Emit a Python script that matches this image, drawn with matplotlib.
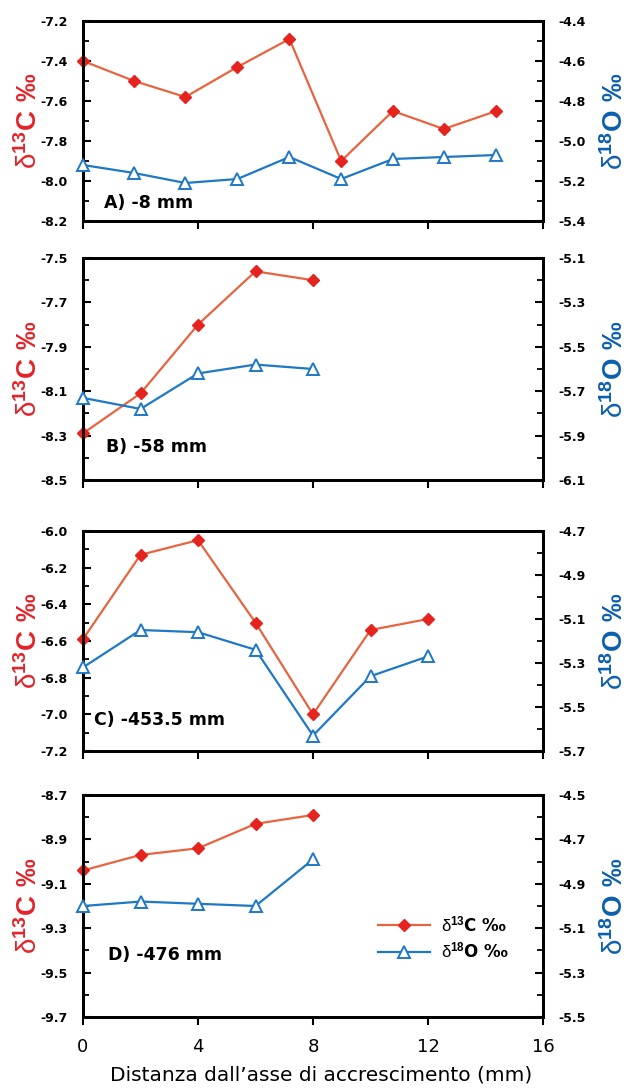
#!/usr/bin/env python3
"""Four stacked d13C / d18O profiles against distance from the growth axis."""
import matplotlib
matplotlib.use("Agg")
import matplotlib.pyplot as plt
from matplotlib.lines import Line2D
from matplotlib.ticker import FormatStrFormatter

plt.rcParams["font.family"] = ["DejaVu Sans"]
plt.rcParams["mathtext.fontset"] = "custom"
plt.rcParams["mathtext.rm"] = "Liberation Sans"
plt.rcParams["mathtext.bf"] = "Liberation Sans:bold"
plt.rcParams["mathtext.default"] = "rm"
plt.rcParams["axes.unicode_minus"] = False

RED_LINE = "#e8643f"
RED_MARK = "#e5231f"
BLUE = "#1f78c6"
RED_LABEL = "#e3232a"
BLUE_LABEL = "#0b5fae"

# panel A) -8 mm
x_a = [0, 1.78, 3.56, 5.37, 7.18, 8.98, 10.78, 12.55, 14.38]
c13_a = [-7.40, -7.50, -7.58, -7.43, -7.29, -7.90, -7.65, -7.74, -7.65]
o18_a = [-5.12, -5.16, -5.21, -5.19, -5.08, -5.19, -5.09, -5.08, -5.07]

# panel B) -58 mm
x_b = [0, 2, 4, 6, 8]
c13_b = [-8.29, -8.11, -7.80, -7.56, -7.60]
o18_b = [-5.73, -5.78, -5.62, -5.58, -5.60]

# panel C) -453.5 mm
x_c = [0, 2, 4, 6, 8, 10, 12]
c13_c = [-6.59, -6.13, -6.05, -6.50, -7.00, -6.54, -6.48]
o18_c = [-5.32, -5.15, -5.16, -5.24, -5.63, -5.36, -5.27]

# panel D) -476 mm
x_d = [0, 2, 4, 6, 8]
c13_d = [-9.04, -8.97, -8.94, -8.83, -8.79]
o18_d = [-5.00, -4.98, -4.99, -5.00, -4.79]

panel_names = ["A) -8 mm", "B) -58 mm", "C) -453.5 mm", "D) -476 mm"]
c13_top = [-7.2, -7.5, -6.0, -8.7]
c13_bottom = [-8.2, -8.5, -7.2, -9.7]
o18_top = [-4.4, -5.1, -4.7, -4.5]
o18_bottom = [-5.4, -6.1, -5.7, -5.5]
x_ticks = [0, 4, 8, 12, 16]

C13_AXIS = r"$\delta^{\mathbf{13}}\mathbf{C\ ‰}$"
O18_AXIS = r"$\delta^{\mathbf{18}}\mathbf{O\ ‰}$"
C13_LEG = r"$\delta^{\mathbf{13}}$C ‰"
O18_LEG = r"$\delta^{\mathbf{18}}$O ‰"

# pixel boxes (top, bottom) of each panel in the 631x1092 figure
W, H = 631, 1092
boxes = [(21, 221), (258, 480), (531, 751), (795, 1017)]
left_px, right_px = 83, 543
name_pos = [(0.045, 0.09), (0.05, 0.15), (0.025, 0.14), (0.055, 0.28)]

panels = [(x_a, c13_a, o18_a), (x_b, c13_b, o18_b),
          (x_c, c13_c, o18_c), (x_d, c13_d, o18_d)]


def ticks_from(top, bottom, step):
    n = int(round((top - bottom) / step))
    return [round(top - step * k, 2) for k in range(n + 1)]


fig = plt.figure(figsize=(W / 100, H / 100), dpi=100)

for i, (x, c13, o18) in enumerate(panels):
    top, bot = boxes[i]
    ax = fig.add_axes([left_px / W, 1 - bot / H, (right_px - left_px) / W, (bot - top) / H])
    ax2 = ax.twinx()

    ax.plot(x, c13, color=RED_LINE, lw=1.6, marker="D", ms=6.5,
            mfc=RED_MARK, mec=RED_MARK, zorder=3, clip_on=False)
    ax2.plot(x, o18, color=BLUE, lw=1.6, marker="^", ms=9,
             mfc="white", mec=BLUE, mew=1.4, zorder=3, clip_on=False)

    ax.set_xlim(0, 16)
    ax.set_ylim(c13_bottom[i], c13_top[i])
    ax2.set_ylim(o18_bottom[i], o18_top[i])
    ax.set_xticks(x_ticks)
    ax.set_yticks(ticks_from(c13_top[i], c13_bottom[i], 0.2))
    ax.set_yticks(ticks_from(c13_top[i], c13_bottom[i], 0.1), minor=True)
    ax2.set_yticks(ticks_from(o18_top[i], o18_bottom[i], 0.2))
    ax2.set_yticks(ticks_from(o18_top[i], o18_bottom[i], 0.1), minor=True)

    for a in (ax, ax2):
        a.yaxis.set_major_formatter(FormatStrFormatter("%.1f"))
        a.tick_params(axis="y", which="major", direction="in", length=6, width=1.5,
                      labelsize=9, pad=11)
        a.tick_params(axis="y", which="minor", direction="in", length=4, width=1.3)
        for lab in a.get_yticklabels():
            lab.set_fontweight("bold")
        for s in a.spines.values():
            s.set_linewidth(2)
    ax.tick_params(axis="x", direction="out", length=6, width=1.5,
                   labelsize=13, pad=9, labelbottom=(i == 3))
    ax2.tick_params(axis="x", length=0)

    ax.set_ylabel(C13_AXIS, color=RED_LABEL, fontsize=20)
    ax.yaxis.set_label_coords(-0.087, 0.5)
    ax2.set_ylabel(O18_AXIS, color=BLUE_LABEL, fontsize=20)
    ax2.yaxis.set_label_coords(1.127, 0.5)

    ax.text(name_pos[i][0], name_pos[i][1], panel_names[i], transform=ax.transAxes,
            fontsize=12.5, fontweight="bold", va="center", ha="left")

    if i == 3:
        ax.set_xlabel("Distanza dall\u2019asse di accrescimento (mm)", fontsize=14.5,
                      labelpad=9)
        ax.xaxis.set_label_coords(0.517, -0.22)
        h1 = Line2D([], [], color=RED_LINE, lw=1.6, marker="D", ms=6.5,
                    mfc=RED_MARK, mec=RED_MARK)
        h2 = Line2D([], [], color=BLUE, lw=1.6, marker="^", ms=9,
                    mfc="white", mec=BLUE, mew=1.4)
        leg = ax2.legend([h1, h2], [C13_LEG, O18_LEG], loc="center left",
                         bbox_to_anchor=(0.641, 0.354), frameon=False,
                         prop={"size": 12, "weight": "bold"},
                         handlelength=3.1, handletextpad=0.7, labelspacing=0.42,
                         borderaxespad=0, borderpad=0)

fig.savefig("out.png", dpi=100)
